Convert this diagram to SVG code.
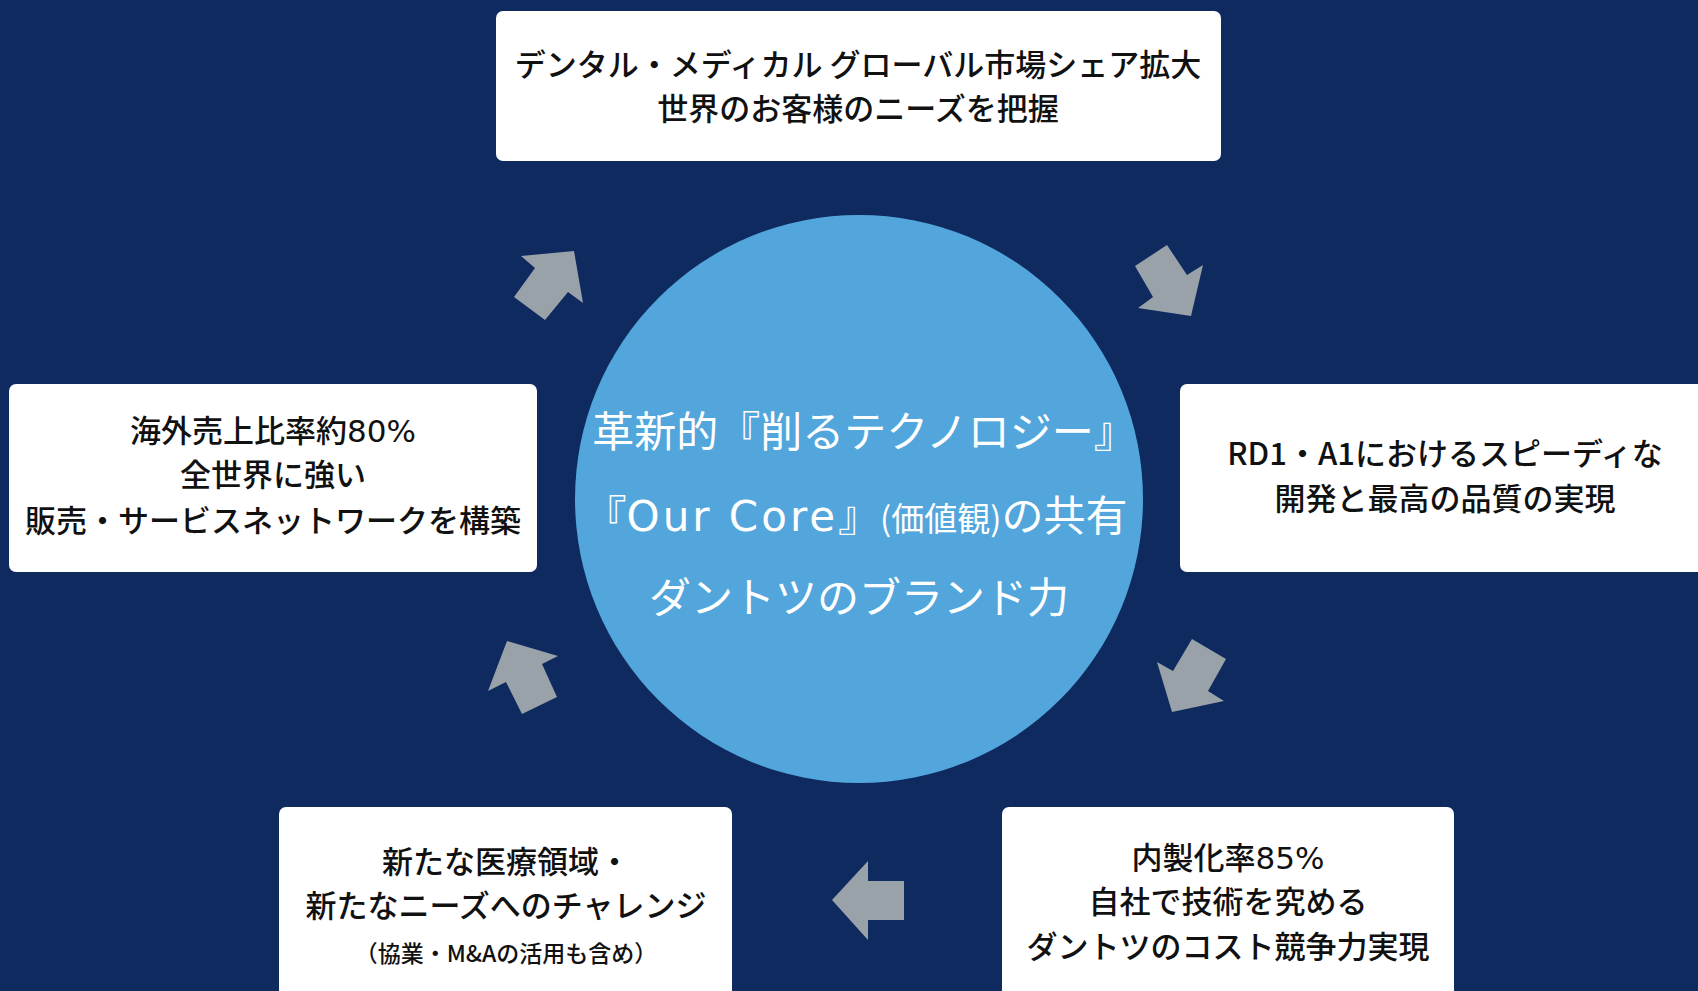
<svg xmlns="http://www.w3.org/2000/svg" width="1698" height="991" viewBox="0 0 1698 991">
<style>
.box{fill:#ffffff;}
.t{font-family:"Noto Sans CJK JP","Noto Sans",sans-serif;font-size:31px;font-weight:500;fill:#111111;text-anchor:middle;}
.s{font-size:23px;}
.lat{font-family:"DejaVu Sans","Noto Sans CJK JP",sans-serif;font-weight:400;}
.c{font-family:"Noto Sans CJK JP","Noto Sans",sans-serif;font-size:42px;font-weight:400;fill:#ffffff;text-anchor:middle;}
.arr{fill:#99a1a9;}
</style>
<rect width="1698" height="991" fill="#0f2a5f"/>
<g id="core">
<circle cx="859" cy="499" r="284" fill="#52a6dc"/>
<text class="c" x="864" y="447">革新的『削るテクノロジー』</text>
<text class="c" x="856" y="531">『<tspan class="lat" letter-spacing="3">Our Core</tspan>』<tspan font-size="33">(価値観)</tspan>の共有</text>
<text class="c" x="859" y="613">ダントツのブランド力</text>
</g>
<g id="node-top">
<rect class="box" x="496" y="11" width="725" height="150" rx="7"/>
<text class="t" x="858" y="76">デンタル・メディカル グローバル市場シェア拡大</text>
<text class="t" x="858" y="120">世界のお客様のニーズを把握</text>
</g>
<g id="node-right">
<rect class="box" x="1180" y="384" width="530" height="188" rx="7"/>
<text class="t" x="1445" y="465">RD1・A1におけるスピーディな</text>
<text class="t" x="1445" y="510">開発と最高の品質の実現</text>
</g>
<g id="node-bottom-right">
<rect class="box" x="1002" y="807" width="452" height="200" rx="7"/>
<text class="t" x="1228" y="869"><tspan>内製化率</tspan><tspan class="lat">85%</tspan></text>
<text class="t" x="1228" y="913">自社で技術を究める</text>
<text class="t" x="1228" y="958">ダントツのコスト競争力実現</text>
</g>
<g id="node-bottom-left">
<rect class="box" x="279" y="807" width="453" height="200" rx="7"/>
<text class="t" x="506" y="873">新たな医療領域・</text>
<text class="t" x="506" y="917">新たなニーズへのチャレンジ</text>
<text class="t s" x="506" y="962">（協業・M&amp;Aの活用も含め）</text>
</g>
<g id="node-left">
<rect class="box" x="9" y="384" width="528" height="188" rx="7"/>
<text class="t" x="273" y="442"><tspan>海外売上比率約</tspan><tspan class="lat">80%</tspan></text>
<text class="t" x="273" y="486">全世界に強い</text>
<text class="t" x="273" y="532">販売・サービスネットワークを構築</text>
</g>
<g id="connectors">
<polygon class="arr" points="574,251 583,303 568,292 545,320 514,297 535,268 521,256"/>
<polygon class="arr" points="1135,266 1167,245 1187,275 1203,265 1191,316 1138,308 1153,297"/>
<polygon class="arr" points="1192,639 1226,659 1208,691 1224,701 1172,712 1157,662 1173,671"/>
<polygon class="arr" points="832,900 868,861 868,881 904,881 904,920 868,920 868,940"/>
<polygon class="arr" points="507,641 558,656 542,664 557,697 522,714 506,682 488,691"/>
</g>
</svg>
